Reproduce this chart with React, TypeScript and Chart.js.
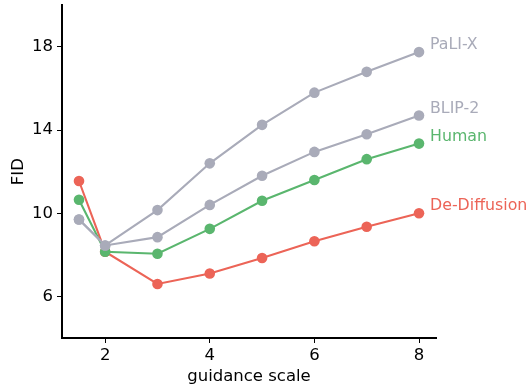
import React, { useEffect, useRef } from "react";
import { Chart, registerables } from "chart.js";

Chart.register(...registerables);

const guidance = [1.5, 2, 3, 4, 5, 6, 7, 8];
const paliX = [9.7, 8.45, 10.15, 12.4, 14.25, 15.8, 16.8, 17.75];
const blip2 = [9.7, 8.45, 8.85, 10.4, 11.8, 12.95, 13.8, 14.7];
const human = [10.65, 8.15, 8.05, 9.25, 10.6, 11.6, 12.6, 13.35];
const deDiffusion = [11.55, 8.15, 6.6, 7.1, 7.85, 8.65, 9.35, 10.0];
const xTicks = [2, 4, 6, 8];
const yTicks = [6, 10, 14, 18];

const GRAY = "#a9abb9";
const GREEN = "#5ab66e";
const RED = "#ec6457";
const FONT = "'DejaVu Sans', sans-serif";
const FS = 16.5;
const LABEL_FS = 15.8;

const seriesDefs = [
  { label: "PaLI-X", data: paliX, color: GRAY },
  { label: "BLIP-2", data: blip2, color: GRAY },
  { label: "Human", data: human, color: GREEN },
  { label: "De-Diffusion", data: deDiffusion, color: RED },
];

const endLabels = {
  id: "endLabels",
  afterDatasetsDraw(chart: any) {
    const ctx = chart.ctx;
    ctx.save();
    ctx.font = `${LABEL_FS}px ${FONT}`;
    ctx.textBaseline = "middle";
    ctx.textAlign = "left";
    chart.data.datasets.forEach((ds: any, i: number) => {
      const meta = chart.getDatasetMeta(i);
      const pt = meta.data[meta.data.length - 1];
      ctx.fillStyle = ds.borderColor;
      ctx.fillText(ds.label, pt.x + 11, pt.y - 7);
    });
    ctx.restore();
  },
};

export default function App() {
  const ref = useRef<HTMLCanvasElement>(null);
  useEffect(() => {
    const chart = new Chart(ref.current!, {
      type: "line",
      data: {
        datasets: seriesDefs.map((s) => ({
          label: s.label,
          data: guidance.map((x, i) => ({ x, y: s.data[i] })),
          borderColor: s.color,
          backgroundColor: s.color,
          pointBackgroundColor: s.color,
          pointBorderColor: s.color,
          borderWidth: 2.1,
          pointRadius: 5.3,
          pointBorderWidth: 0,
          tension: 0,
        })),
      },
      options: {
        animation: false,
        responsive: false,
        maintainAspectRatio: false,
        layout: { padding: { left: 0, right: 92, top: 5, bottom: 0 } },
        plugins: { legend: { display: false }, tooltip: { enabled: false } },
        scales: {
          x: {
            type: "linear",
            min: 1.175,
            max: 8.325,
            afterBuildTicks: (s: any) => {
              s.ticks = xTicks.map((v) => ({ value: v }));
            },
            afterFit: (s: any) => {
              s.height = 49;
              s.paddingLeft = 0;
              s.paddingRight = 0;
            },
            grid: { display: true, drawOnChartArea: false, drawTicks: true, tickLength: 5, color: "#000", lineWidth: 1 },
            border: { display: true, color: "#000", width: 2 },
            ticks: { color: "#000", font: { family: FONT, size: FS }, padding: 3, autoSkip: false, maxRotation: 0 },
            title: { display: true, text: "guidance scale", color: "#000", font: { family: FONT, size: FS }, padding: { top: 1, bottom: 0 } },
          },
          y: {
            type: "linear",
            min: 4,
            max: 20,
            afterBuildTicks: (s: any) => {
              s.ticks = yTicks.map((v) => ({ value: v }));
            },
            afterFit: (s: any) => {
              s.width = 62;
              s.paddingTop = 0;
              s.paddingBottom = 0;
            },
            grid: { display: true, drawOnChartArea: false, drawTicks: true, tickLength: 5, color: "#000", lineWidth: 1 },
            border: { display: true, color: "#000", width: 2 },
            ticks: { color: "#000", font: { family: FONT, size: FS }, padding: 4, autoSkip: false },
            title: { display: true, text: "FID", color: "#000", font: { family: FONT, size: FS }, padding: { top: 9, bottom: 0 } },
          },
        },
      },
      plugins: [endLabels],
    });
    return () => chart.destroy();
  }, []);
  return (
    <div style={{ position: "fixed", left: 0, top: 0, width: 528, height: 387, background: "#fff" }}>
      <canvas ref={ref} width={528} height={387} style={{ display: "block" }} />
    </div>
  );
}
